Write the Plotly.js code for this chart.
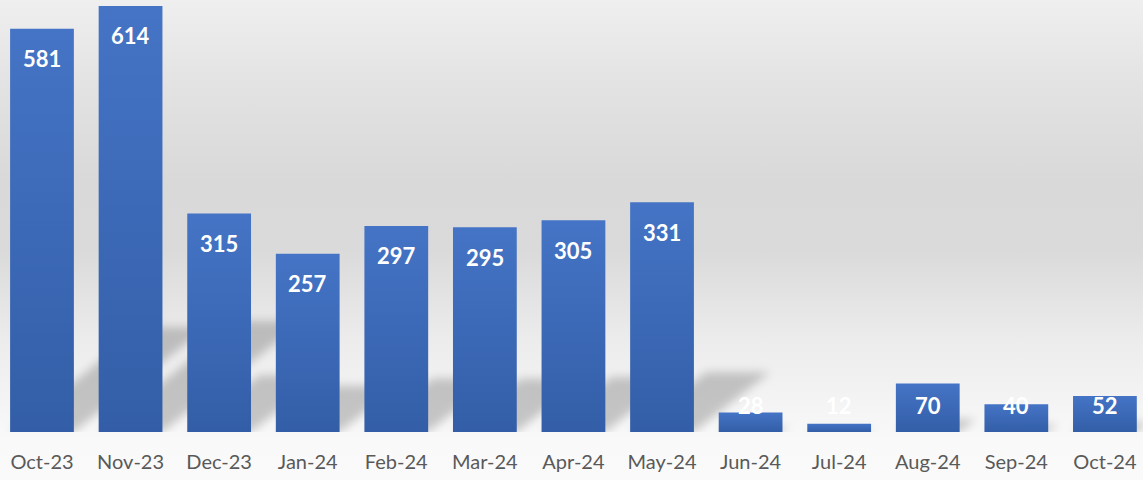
<!DOCTYPE html>
<html>
<head>
<meta charset="utf-8">
<script src="https://cdn.plot.ly/plotly-3.0.1.min.js"></script>
<style>
  html, body { margin: 0; padding: 0; }
  #chart {
    width: 1143px; height: 480px;
    background: linear-gradient(to bottom, #efefef 0px, #e2e2e2 90px, #d9d9d9 180px, #dadada 250px, #ececec 340px, #f5f5f5 410px, #f9f9f9 440px, #fafafa 480px);
  }
</style>
</head>
<body>
<div id="chart"></div>
<script>
// ---- data ----
const categories = ["Oct-23", "Nov-23", "Dec-23", "Jan-24", "Feb-24", "Mar-24", "Apr-24", "May-24", "Jun-24", "Jul-24", "Aug-24", "Sep-24", "Oct-24"];
const values = [581, 614, 315, 257, 297, 295, 305, 331, 28, 12, 70, 40, 52];

// ---- layout constants ----
const W = 1143, H = 480;
const M = { l: 0, r: 0, t: 0, b: 48 };
const X_RANGE = [-0.474, 12.43];
const Y_RANGE = [0, 622.6];
const BAR_W = 0.72;
const LABEL_FLOOR = 82;   // labels of short bars sit at a common height

const idx = categories.map((_, i) => i);
const plotW = W - M.l - M.r, plotH = H - M.t - M.b;
const pxPerCat = plotW / (X_RANGE[1] - X_RANGE[0]);
const pxPerVal = plotH / (Y_RANGE[1] - Y_RANGE[0]);

// perspective shadows derived from each bar
const shapes = values.map((v, i) => {
  const hPx = v * pxPerVal;
  const dx = 0.33 * hPx / pxPerCat;
  const dy = 0.26 * v;
  const x0 = i - BAR_W / 2, x1 = i + BAR_W / 2;
  return {
    type: 'path', xref: 'x', yref: 'y', layer: 'below',
    path: `M ${x0},0 L ${x1},0 L ${x1 + dx},${dy} L ${x0 + dx},${dy} Z`,
    fillcolor: 'rgba(0,0,0,0.2)', line: { width: 0 }
  };
});

const annotations = values.map((v, i) => ({
  x: i, y: Math.max(v, LABEL_FLOOR), xref: 'x', yref: 'y',
  text: String(v), showarrow: false, yanchor: 'middle', yshift: -30,
  font: { family: 'Lato, sans-serif', size: 22, color: '#ffffff', weight: 700 }
}));

const trace = {
  type: 'bar', x: idx, y: values, width: BAR_W,
  marker: { color: '#3d67b6', line: { width: 0 } },
  hoverinfo: 'none'
};

const layout = {
  width: W, height: H, margin: M,
  paper_bgcolor: 'rgba(0,0,0,0)', plot_bgcolor: 'rgba(0,0,0,0)',
  showlegend: false,
  xaxis: {
    type: 'linear', range: X_RANGE, tickvals: idx, ticktext: categories,
    showgrid: false, zeroline: false, showline: false, ticks: '',
    ticklabelstandoff: 16,
    tickfont: { family: 'Lato, sans-serif', size: 20, color: '#595959' }
  },
  yaxis: { range: Y_RANGE, visible: false, showgrid: false, zeroline: false },
  shapes: shapes,
  annotations: annotations
};

Plotly.newPlot('chart', [trace], layout, { staticPlot: true, displayModeBar: false }).then(() => {
  const NS = 'http://www.w3.org/2000/svg';
  const defs = document.querySelector('.main-svg defs');
  const grad = document.createElementNS(NS, 'linearGradient');
  grad.setAttribute('id', 'barGrad');
  grad.setAttribute('x1', '0'); grad.setAttribute('y1', '0');
  grad.setAttribute('x2', '0'); grad.setAttribute('y2', '1');
  [['0', '#4574c6'], ['1', '#335ea7']].forEach(([o, c]) => {
    const s = document.createElementNS(NS, 'stop');
    s.setAttribute('offset', o); s.setAttribute('stop-color', c);
    grad.appendChild(s);
  });
  defs.appendChild(grad);

  document.querySelectorAll('.bars .point path').forEach(p => { p.style.fill = 'url(#barGrad)'; });
  document.querySelectorAll('.shapelayer path').forEach(p => {
    p.style.filter = 'blur(5px)';
  });
});
</script>
</body>
</html>
